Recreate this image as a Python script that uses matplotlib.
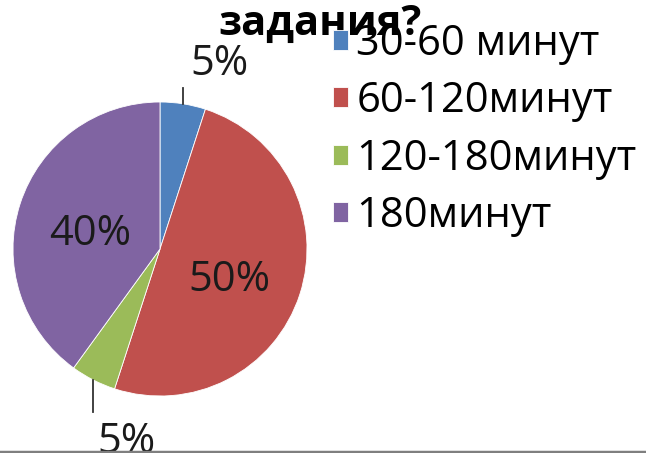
import numpy as np
import matplotlib
matplotlib.use("Agg")
import matplotlib.pyplot as plt
from matplotlib.lines import Line2D

categories = ["30-60 минут", "60-120минут", "120-180минут", "180минут"]
values = [5, 50, 5, 40]
colors = ["#4F81BD", "#C0504D", "#9BBB59", "#8064A2"]
title = "задания?"

plt.rcParams['font.family'] = ['Open Sans', 'DejaVu Sans']

W, H = 646, 453
fig = plt.figure(figsize=(W / 100, H / 100), dpi=100)
cx, cy, R = 160, 249, 147
ax = fig.add_axes([(cx - R) / W, (H - cy - R) / H, 2 * R / W, 2 * R / H])

wedges, _ = ax.pie(values, colors=colors, startangle=90, counterclock=False,
                   radius=1.0, wedgeprops=dict(edgecolor='white', linewidth=0.6))
ax.set_xlim(-1, 1)
ax.set_ylim(-1, 1)
ax.set_aspect('equal')
ax.axis('off')

fs = 30
for w, v in zip(wedges, values):
    mid = np.deg2rad((w.theta1 + w.theta2) / 2)
    x, y = np.cos(mid), np.sin(mid)
    lab = f"{v}%"
    if v >= 20:
        ax.text(0.5 * x, 0.5 * y - 0.055, lab, ha='center', va='center', fontsize=fs, color='#1a1a1a')
    else:
        if y > 0:
            ax.plot([x, x], [y, y + 0.11], color='#333333', lw=1.3, clip_on=False)
            ax.text(x + 0.048, y + 0.27, lab, ha='left', va='center', fontsize=fs, color='#1a1a1a')
        else:
            ax.plot([x, x], [y, y - 0.22], color='#333333', lw=1.3, clip_on=False)
            ax.text(x + 0.025, y - 0.422, lab, ha='left', va='center', fontsize=fs, color='#1a1a1a')

fig.text(218 / W, 1 - 35 / H, title, ha='left', va='baseline', fontsize=fs,
         fontweight='bold', color='black', zorder=1)

leg = fig.legend(wedges, categories, loc='upper left', bbox_to_anchor=(333 / W, 1 - 23 / H),
                 frameon=False, fontsize=fs, handlelength=0.36, handleheight=0.36,
                 handletextpad=0.2, labelspacing=0.37, borderpad=0, borderaxespad=0)
leg.set_zorder(5)

fig.add_artist(Line2D([0, 1], [1.5 / H, 1.5 / H], color='#7f7f7f', lw=2.5,
                      transform=fig.transFigure, zorder=10))

fig.savefig("out.png", dpi=100)
